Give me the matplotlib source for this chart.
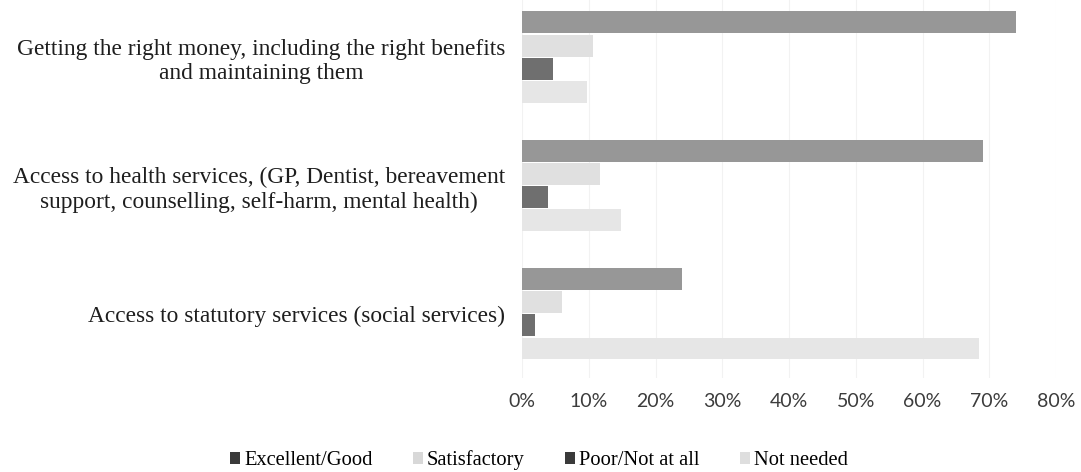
import numpy as np
import matplotlib.pyplot as plt
from matplotlib.patches import Patch

categories = [
    "Getting the right money, including the right benefits\nand maintaining them",
    "Access to health services, (GP, Dentist, bereavement\nsupport, counselling, self-harm, mental health)",
    "Access to statutory services (social services)",
]
series = ["Excellent/Good", "Satisfactory", "Poor/Not at all", "Not needed"]
excellent = [74, 69, 24]
satisfactory = [10.6, 11.7, 6]
poor = [4.7, 3.9, 2]
not_needed = [9.7, 14.8, 68.4]
xticks = [0, 10, 20, 30, 40, 50, 60, 70, 80]

bar_colors = ["#979797", "#e0e0e0", "#6f6f6f", "#e6e6e6"]
key_colors = ["#3a3a3a", "#d8d8d8", "#3a3a3a", "#dedede"]

fig = plt.figure(figsize=(10.81, 4.72), dpi=100)
ax = fig.add_axes([522 / 1081, 1 - 378 / 472, 534 / 1081, 378 / 472])

y = np.arange(len(categories))
h = 0.18
values = [excellent, satisfactory, poor, not_needed]
for i, (vals, c) in enumerate(zip(values, bar_colors)):
    ax.barh(y + (i - 1.5) * h, vals, height=h * 0.95, color=c, zorder=2)

ax.set_xlim(0, 80)
ax.set_ylim(2.5, -0.445)
ax.set_xticks(xticks)
ax.set_xticklabels([f"{t}%" for t in xticks], family="Lato", fontsize=14, color="#3c3c3c")
ax.set_yticks(y)
ax.set_yticklabels(categories, family="Liberation Serif", fontsize=16.8,
                   color="#1e1e1e", multialignment="center", linespacing=1.22)
ax.tick_params(axis="x", length=0, pad=11)
ax.tick_params(axis="y", length=0, pad=12)
ax.grid(axis="x", color="#f2f2f2", lw=0.8, zorder=0)
for s in ax.spines.values():
    s.set_visible(False)

handles = [Patch(facecolor=c, edgecolor="none") for c in key_colors]
fig.legend(handles, series, loc="center", bbox_to_anchor=(539 / 1081, 1 - 460 / 472),
           ncol=4, frameon=False, handlelength=0.5, handleheight=0.5,
           handletextpad=0.2, columnspacing=1.95,
           prop={"family": "Liberation Serif", "size": 14.8})

fig.savefig("out.png", dpi=100)
